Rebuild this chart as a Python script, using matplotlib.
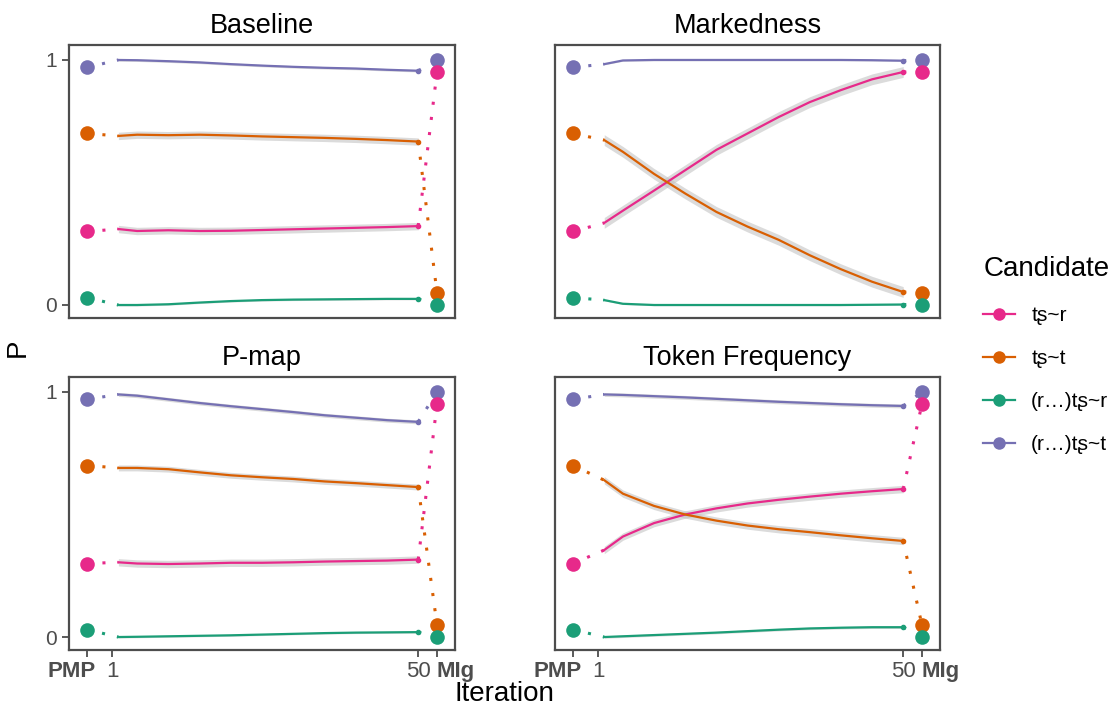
import numpy as np
import matplotlib.pyplot as plt
from matplotlib.lines import Line2D
from matplotlib.transforms import ScaledTranslation

plt.rcParams['font.family'] = ['Liberation Sans', 'DejaVu Sans']

# x positions
PMP = -3
MIG = 53
iters = [2, 5, 10, 15, 20, 25, 30, 35, 40, 45, 50]

candidates = ['tʂ~r', 'tʂ~t', '(r…)tʂ~r', '(r…)tʂ~t']
colors = ['#E7298A', '#D95F02', '#1B9E77', '#7570B3']

pmp_vals = [0.30, 0.70, 0.03, 0.97]
mig_vals = [0.95, 0.05, 0.00, 1.00]

panels = ['Baseline', 'Markedness', 'P-map', 'Token Frequency']

# smoothed P over iterations, order: tʂ~r, tʂ~t, (r…)tʂ~r, (r…)tʂ~t
baseline = [
    [0.31, 0.302, 0.305, 0.302, 0.303, 0.306, 0.309, 0.312, 0.315, 0.318, 0.322],
    [0.69, 0.695, 0.693, 0.695, 0.692, 0.688, 0.685, 0.682, 0.678, 0.673, 0.667],
    [0.0, 0.0, 0.003, 0.01, 0.016, 0.02, 0.022, 0.023, 0.024, 0.025, 0.025],
    [1.0, 0.999, 0.995, 0.99, 0.983, 0.977, 0.972, 0.968, 0.965, 0.96, 0.956],
]
markedness = [
    [0.335, 0.385, 0.467, 0.55, 0.633, 0.70, 0.767, 0.828, 0.877, 0.921, 0.951],
    [0.673, 0.625, 0.535, 0.455, 0.38, 0.32, 0.266, 0.203, 0.146, 0.095, 0.053],
    [0.02, 0.005, 0.0, 0.0, 0.0, 0.0, 0.0, 0.0, 0.0, 0.001, 0.002],
    [0.983, 0.998, 1.0, 1.0, 1.0, 1.0, 1.0, 1.0, 1.0, 0.999, 0.997],
]
pmap = [
    [0.305, 0.3, 0.298, 0.3, 0.303, 0.303, 0.305, 0.308, 0.31, 0.312, 0.316],
    [0.69, 0.69, 0.685, 0.672, 0.66, 0.652, 0.645, 0.635, 0.628, 0.62, 0.612],
    [0.0, 0.001, 0.003, 0.005, 0.007, 0.01, 0.013, 0.016, 0.018, 0.019, 0.02],
    [0.99, 0.985, 0.97, 0.955, 0.942, 0.93, 0.918, 0.905, 0.895, 0.885, 0.878],
]
token = [
    [0.355, 0.41, 0.465, 0.5, 0.525, 0.545, 0.56, 0.573, 0.585, 0.595, 0.604],
    [0.64, 0.585, 0.535, 0.5, 0.475, 0.455, 0.44, 0.428, 0.415, 0.403, 0.392],
    [0.0, 0.003, 0.008, 0.013, 0.018, 0.024, 0.03, 0.035, 0.038, 0.04, 0.04],
    [0.99, 0.988, 0.983, 0.978, 0.972, 0.966, 0.96, 0.955, 0.95, 0.946, 0.943],
]

# half widths of the grey confidence bands
baseline_se = [0.015, 0.015, 0.004, 0.005]
markedness_se = [0.022, 0.022, 0.003, 0.003]
pmap_se = [0.015, 0.012, 0.004, 0.008]
token_se = [0.015, 0.015, 0.005, 0.008]

data = [baseline, markedness, pmap, token]
ses = [baseline_se, markedness_se, pmap_se, token_se]

fig = plt.figure(figsize=(11.19, 7.09), dpi=100)
rects = [
    [0.0617, 0.5515, 0.345, 0.385],
    [0.496, 0.5515, 0.344, 0.385],
    [0.0617, 0.0832, 0.345, 0.385],
    [0.496, 0.0832, 0.344, 0.385],
]
draw_order = [3, 1, 2, 0]
grey = '#4D4D4D'

for p, name in enumerate(panels):
    ax = fig.add_axes(rects[p])
    for c in draw_order:
        y = np.array(data[p][c])
        col = colors[c]
        ax.fill_between(iters, y - ses[p][c], y + ses[p][c], color='#BEBEBE',
                        alpha=0.55, lw=0, zorder=1)
        ax.plot(iters, y, color=col, lw=1.6, zorder=2 + c * 0.1)
        ax.plot(iters[-1], y[-1], 'o', color=col, ms=3, zorder=2)
        # dotted connectors
        ax.plot([PMP, iters[0]], [pmp_vals[c], y[0]], color=col, lw=2.2,
                ls=(0, (1, 4)), zorder=2)
        ax.plot([iters[-1], MIG], [y[-1], mig_vals[c]], color=col, lw=2.2,
                ls=(0, (1, 4)), zorder=2)
        ax.plot([PMP, MIG], [pmp_vals[c], mig_vals[c]], 'o', color=col,
                ms=10.5, mec='none', zorder=5 + c * 0.1 if c != 3 else 4.9)
    ax.set_xlim(-5.9, 55.9)
    ax.set_ylim(-0.053, 1.061)
    ax.set_title(name, fontsize=19.5, pad=9)
    for s in ax.spines.values():
        s.set_color(grey)
        s.set_linewidth(1.6)
    ax.tick_params(colors=grey, width=1.3, length=5, labelsize=15)
    ax.tick_params(axis='x', labelsize=16, pad=3)
    ax.set_yticks([0, 1])
    if p % 2 == 1:
        ax.set_yticklabels([])
        ax.tick_params(axis='y', length=0)
    if p < 2:
        ax.set_xticks([])
    else:
        ax.set_xticks([PMP, 1, 50, MIG])
        ax.set_xticklabels(['PMP', '1', '50', 'MIg'])
        labs = ax.get_xticklabels()
        labs[0].set_fontweight('bold')
        labs[3].set_fontweight('bold')
        labs[0].set_horizontalalignment('right')
        labs[3].set_horizontalalignment('left')
        # nudge PMP label right a little, as in the reference
        lab = ax.xaxis.get_major_ticks()[0].label1
        lab.set_transform(lab.get_transform()
                          + ScaledTranslation(0.09, 0, fig.dpi_scale_trans))

fig.text(0.451, 0.003, 'Iteration', fontsize=20, ha='center', va='bottom')
fig.text(0.016, 0.51, 'P', fontsize=20, rotation=90, ha='center', va='center')

handles = [Line2D([], [], color=colors[i], lw=1.6, marker='o', ms=9, mec='none')
           for i in range(4)]
leg = fig.legend(handles, candidates, loc='upper left', bbox_to_anchor=(0.862, 0.665),
                 frameon=False, fontsize=15, title='Candidate', title_fontsize=20,
                 handlelength=1.5, labelspacing=1.15, alignment='left')

fig.savefig('out.png', dpi=100)
